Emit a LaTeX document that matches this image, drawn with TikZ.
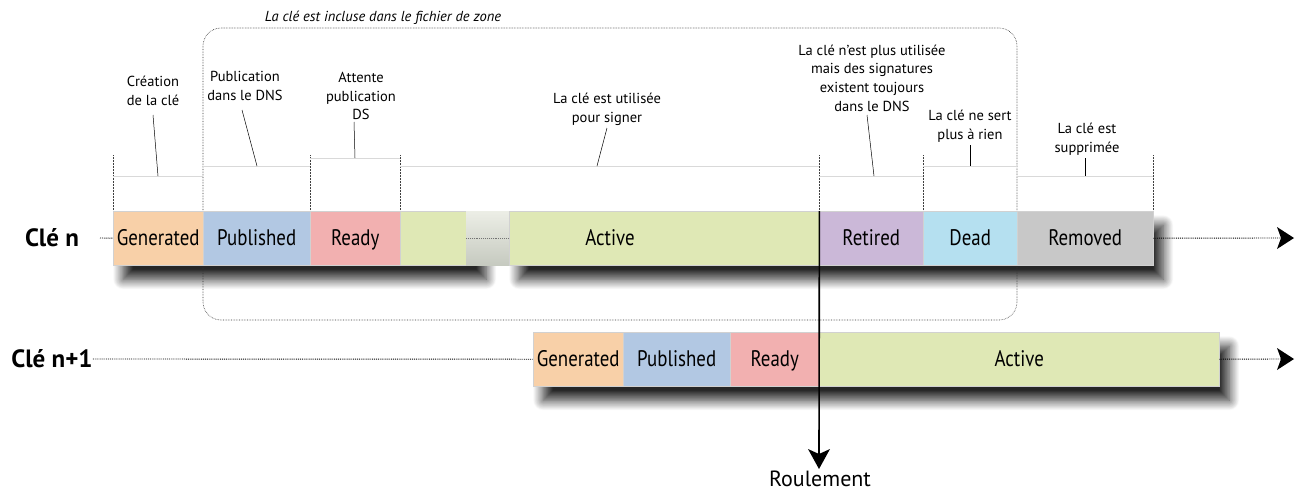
\documentclass[tikz,border=0pt]{standalone}
\usepackage{fontspec}
\setmainfont{PT Sans}
\newfontfamily\condfont{PT Sans}[FakeStretch=0.84]
\usetikzlibrary{shadows.blur,backgrounds}

\definecolor{cGen}{RGB}{248,208,168}
\definecolor{cPub}{RGB}{178,200,227}
\definecolor{cRdy}{RGB}{242,176,176}
\definecolor{cAct}{RGB}{223,232,181}
\definecolor{cRet}{RGB}{203,184,216}
\definecolor{cDead}{RGB}{181,224,240}
\definecolor{cRem}{RGB}{200,200,200}
\definecolor{cGapTop}{RGB}{236,238,230}
\definecolor{cGapBot}{RGB}{198,202,192}

\tikzset{
  phase/.style={draw=black!18, line width=0.4pt, minimum height=54pt,
    inner sep=0pt, anchor=north west, text height=16pt, text depth=1pt,
    font=\condfont\fontsize{22.5}{24}\selectfont},
  phasetext/.style={inner sep=0pt, text height=16pt, text depth=1pt,
    font=\condfont\fontsize{22.5}{24}\selectfont},
  rowlabel/.style={font=\bfseries\fontsize{25}{27}\selectfont, inner sep=0pt},
  note/.style={align=center, inner sep=0pt, font=\fontsize{14.5}{18.7}\selectfont},
  tick/.style={densely dotted, black!75, line width=0.5pt},
  level/.style={black!15, line width=0.8pt},
  leader/.style={black, line width=0.5pt},
  lead/.style={densely dotted, black, line width=0.9pt},
  % filled arrow heads, tip at the pic origin
  headright/.pic={\fill[black] (0,0) -- (-17,-11) -- (-13,0) -- (-17,11) -- cycle;},
  headdown/.pic={\fill[black] (0,0) -- (-11,-20) -- (0,-15) -- (11,-20) -- cycle;},
  rowshadow/.style={fill=white, blur shadow={shadow xshift=10pt, shadow yshift=-14pt,
    shadow blur radius=10pt, shadow blur steps=16, shadow opacity=85}}
}

\begin{document}
\begin{tikzpicture}[x=1pt,y=-1pt]
\useasboundingbox (0,0) rectangle (1299,491);

% zone-file inclusion frame and its caption
\draw[densely dotted, black!80, line width=0.6pt, rounded corners=18pt]
  (203,28) rectangle (1017,320);
\node[font=\itshape\fontsize{14.5}{16}\selectfont, inner sep=0pt] (zone) at (383,18)
  {La clé est incluse dans le fichier de zone};

% duration ticks above the first key
\foreach \x in {113,310,400,819,923,1153}
  \draw[tick] (\x,155) -- (\x,211);

% duration levels
\draw[level] (113,176) -- (203,176);
\draw[level] (203,166) -- (310,166);
\draw[level] (310,158) -- (400,158);
\draw[level] (400,166) -- (819,166);
\draw[level] (819,176) -- (923,176);
\draw[level] (923,166) -- (1017,166);
\draw[level] (1017,176) -- (1153,176);

% annotations
\node[note] (nGen) at (153,91) {Création\\de la clé};
\node[note] (nPub) at (245,86) {Publication\\dans le DNS};
\node[note] (nRdy) at (361,96) {Attente\\publication\\DS};
\node[note] (nAct) at (607,109) {La clé est utilisée\\pour signer};
\node[note] (nRet) at (872,78) {La clé n’est plus utilisée\\mais des signatures\\existent toujours\\dans le DNS};
\node[note] (nDead) at (970,126) {La clé ne sert\\plus à rien};
\node[note] (nRem) at (1087,139) {La clé est\\supprimée};

\coordinate (tGen) at (158,176);
\coordinate (tPub) at (257,166);
\coordinate (tRdy) at (355,158);
\coordinate (tAct) at (597,166);
\coordinate (tRet) at (874,176);
\coordinate (tDead) at (970,166);
\coordinate (tRem) at (1085,176);
\draw[leader] (153,115) -- (tGen);
\draw[leader] (242,110) -- (tPub);
\draw[leader] (354,122) -- (tRdy);
\draw[leader] (607,128) -- (tAct);
\draw[leader] (867,115) -- (tRet);
\draw[leader] (970,145) -- (tDead);
\draw[leader] (1085,158) -- (tRem);

% key n
\node[rowlabel] (kn) at (52,238) {Clé n};
\node[phase, fill=cGen, minimum width=90pt] (g1) at (113,211) {Generated};
\node[phase, fill=cPub, minimum width=107pt] (p1) at (203,211) {Published};
\node[phase, fill=cRdy, minimum width=90pt] (r1) at (310,211) {Ready};
\node[phase, fill=cAct, minimum width=66pt] (pre1) at (400,211) {};
\node[phase, draw=none, minimum width=43pt,
  top color=cGapTop, bottom color=cGapBot] (gap1) at (466,211) {};
\node[phase, fill=cAct, minimum width=310pt] (a1) at (509,211) {};
\node[phasetext] (a1txt) at (610,238) {Active};
\node[phase, fill=cRet, minimum width=104pt] (ret1) at (819,211) {Retired};
\node[phase, fill=cDead, minimum width=94pt] (d1) at (923,211) {Dead};
\node[phase, fill=cRem, minimum width=136pt] (rm1) at (1017,211) {Removed};

\coordinate (s1) at (100,238);
\coordinate (e1) at (1294,238);
\coordinate (b1) at (1281,238);
\draw[lead] (s1) -- (g1.west);
\draw[lead, black!55] (gap1.west) -- (gap1.east);
\draw[lead] (rm1.east) -- (b1);
\pic at (e1) {headright};

% key n+1
\node[rowlabel] (kn1) at (52,359) {Clé n+1};
\node[phase, fill=cGen, minimum width=90pt] (g2) at (533,332) {Generated};
\node[phase, fill=cPub, minimum width=107pt] (p2) at (623,332) {Published};
\node[phase, fill=cRdy, minimum width=89pt] (r2) at (730,332) {Ready};
\node[phase, fill=cAct, minimum width=400pt] (a2) at (819,332) {Active};

\coordinate (e2) at (1294,359);
\coordinate (b2) at (1281,359);
\draw[lead] (kn1.east) -- (g2.west);
\draw[lead] (a2.east) -- (b2);
\pic at (e2) {headright};

% drop shadows under both rows
\begin{pgfonlayer}{background}
  \path[rowshadow] (g1.north west) rectangle ([xshift=10pt]pre1.south east);
  \path[rowshadow] (a1.north west) rectangle (rm1.south east);
  \path[rowshadow] (g2.north west) rectangle (a2.south east);
\end{pgfonlayer}

% rollover instant
\node[font=\fontsize{22}{24}\selectfont, inner sep=0pt, anchor=north] (roul) at (820,471) {Roulement};
\coordinate (rtip) at (819,469);
\coordinate (rbase) at (819,455);
\draw[line width=1.6pt] (a1.north east) -- (rbase);
\pic at (rtip) {headdown};
\end{tikzpicture}
\end{document}
